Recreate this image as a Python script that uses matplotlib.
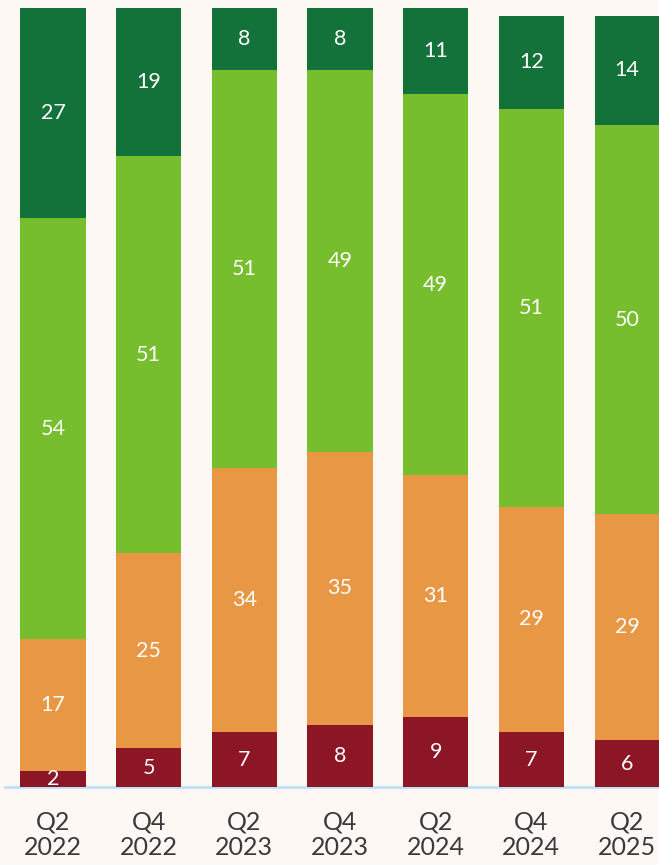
import numpy as np
import matplotlib.pyplot as plt

quarters = ["Q2\n2022", "Q4\n2022", "Q2\n2023", "Q4\n2023", "Q2\n2024", "Q4\n2024", "Q2\n2025"]
dark_red = [2, 5, 7, 8, 9, 7, 6]
orange = [17, 25, 34, 35, 31, 29, 29]
light_green = [54, 51, 51, 49, 49, 51, 50]
dark_green = [27, 19, 8, 8, 11, 12, 14]

series = [dark_red, orange, light_green, dark_green]
colors = ["#8C1526", "#E89744", "#76BE2D", "#137239"]

bg = "#FEF8F4"
fig = plt.figure(figsize=(6.59, 8.65), dpi=100, facecolor=bg)
ax = fig.add_axes([0, 0.0902, 1, 0.9006])
ax.set_facecolor(bg)

x = np.arange(len(quarters))
bottom = np.zeros(len(quarters))
for vals, col in zip(series, colors):
    vals = np.array(vals)
    ax.bar(x, vals, bottom=bottom, width=0.68, color=col, zorder=2)
    for xi, b, v in zip(x, bottom, vals):
        ax.text(xi, b + v / 2, str(v), ha="center", va="center",
                color="white", fontsize=15.5, family="Lato", zorder=3)
    bottom += vals

ax.set_xlim(-0.554, 6.334)
ax.set_ylim(0, 100)
ax.set_yticks([])
ax.set_xticks(x)
ax.set_xticklabels(quarters, fontsize=18, color="#3a3a3a", family="Lato",
                   linespacing=1.12)
ax.tick_params(axis="x", length=0, pad=17)
for s in ["top", "right", "left"]:
    ax.spines[s].set_visible(False)
ax.spines["bottom"].set_color("#BDE0F5")
ax.spines["bottom"].set_linewidth(2)
ax.spines["bottom"].set_bounds(-0.5, 6.334)
ax.spines["bottom"].set_zorder(1)

fig.savefig("out.png", dpi=100, facecolor=bg)
